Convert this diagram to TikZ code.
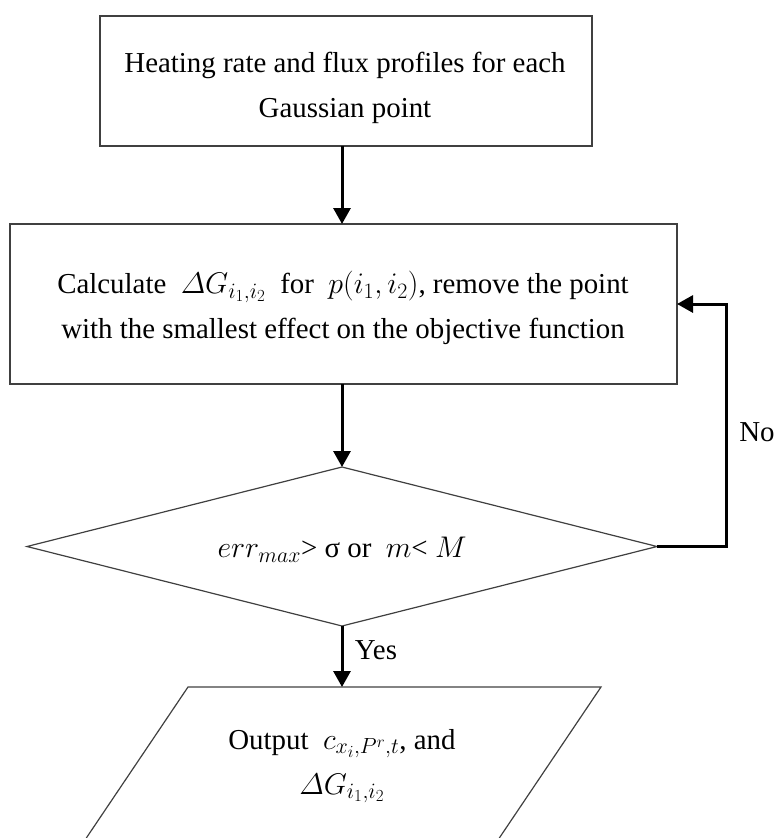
\documentclass[tikz,border=0pt]{standalone}
\usepackage{fix-cm}
\usepackage{amsmath}
\usepackage{fontspec}
\setmainfont{Liberation Serif}
\DeclareMathSizes{29}{30}{22}{17}
\usetikzlibrary{arrows.meta,shapes.geometric}
\tikzset{
  boxline/.style={draw=black!75, line width=1.2bp},
  procbox/.style={boxline, rectangle, inner sep=0pt, outer sep=0pt},
  decbox/.style={boxline, diamond, inner sep=0pt, outer sep=0pt, aspect=4},
  conn/.style={draw=black, line width=3bp, -{Triangle[length=16bp,width=17bp]}},
  lbl/.style={inner sep=0pt, outer sep=0pt, align=center},
}
\begin{document}
\begin{tikzpicture}[x=1bp, y=-1bp, font=\fontsize{29}{45}\selectfont]
\useasboundingbox (0,0) rectangle (777,838);
\node[procbox, minimum width=492bp, minimum height=130bp] (b1) at (346,81) {};
\node[lbl] (b1t) at (345,88)
  {Heating rate and flux profiles for each\\Gaussian point};
\node[procbox, minimum width=667bp, minimum height=160bp] (b2) at (343.5,304) {};
\node[lbl] (b2t) at (343,308)
  {Calculate \ $\varDelta G_{i_1,i_2}$ \ for \ $p(i_1,i_2)$, remove the point\\with the smallest effect on the objective function};
\node[decbox, minimum width=630bp, minimum height=159bp] (d) at (342,546.5) {};
\node[lbl] (dtxt) at (342,550) {$err_{max}$> σ or \ $m$< $M$};
% parallelogram (cut by the lower edge)
\coordinate (pl) at (188,687);
\coordinate (pr) at (601,687);
\coordinate (plb) at (86.3,838);
\coordinate (prb) at (499.3,838);
\coordinate (ptop) at (342,687);
\draw[boxline] (plb) -- (pl) -- (pr) -- (prb);
\node[lbl] (otxt) at (342,766) {Output \ $c_{x_i,P^r,t}$, and\\$\varDelta G_{i_1,i_2}$};
% connectors
\draw[conn] (d.north |- b1.south) -- (d.north |- b2.north);
\draw[conn] (d.north |- b2.south) -- (d.north);
\draw[conn] (d.south) -- (ptop);
\draw[conn] (d.east) -- ++(69,0) coordinate (fb) |- (b2.east);
\node[lbl] (yes) at (376,650) {Yes};
\node[lbl] (no) at (757,432) {No};
\end{tikzpicture}
\end{document}
